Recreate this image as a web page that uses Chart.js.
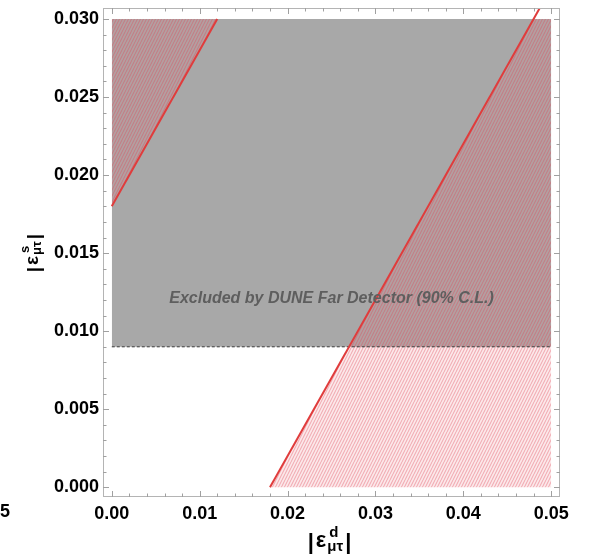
<!DOCTYPE html>
<html><head><meta charset="utf-8">
<script src="https://cdn.jsdelivr.net/npm/chart.js@4/dist/chart.umd.min.js"></script>
<style>html,body{margin:0;padding:0;background:#fff}#wrap{position:relative;width:598px;height:556px}</style>
</head><body><div id="wrap"><canvas id="c" width="598" height="556"></canvas></div>
<script>
// ---- data ----
const xTicks = [0, 0.01, 0.02, 0.03, 0.04, 0.05];
const xTickLabels = ['0.00', '0.01', '0.02', '0.03', '0.04', '0.05'];
const yTicks = [0, 0.005, 0.010, 0.015, 0.020, 0.025, 0.030];
const yTickLabels = ['0.000', '0.005', '0.010', '0.015', '0.020', '0.025', '0.030'];
const xMinorTicks = [0.002, 0.004, 0.006, 0.008, 0.012, 0.014, 0.016, 0.018, 0.022, 0.024, 0.026, 0.028, 0.032, 0.034, 0.036, 0.038, 0.042, 0.044, 0.046, 0.048];
const yMinorTicks = [0.001, 0.002, 0.003, 0.004, 0.006, 0.007, 0.008, 0.009, 0.011, 0.012, 0.013, 0.014, 0.016, 0.017, 0.018, 0.019, 0.021, 0.022, 0.023, 0.024, 0.026, 0.027, 0.028, 0.029];
// DUNE FD excluded band
const duneTop = [{x: 0, y: 0.030}, {x: 0.05, y: 0.030}];
const duneEdge = [{x: 0, y: 0.009}, {x: 0.05, y: 0.009}];
const duneLimit = 0.009;
// red boundary lines
const boundLeft = [{x: 0, y: 0.018}, {x: 0.012, y: 0.030}];
const boundRight = [{x: 0.018, y: 0}, {x: 0.049, y: 0.031}];
// hatched regions
const hatchUpper = [{x: 0, y: 0.018}, {x: 0.012, y: 0.030}];
const hatchUpperTo = 0.030;
const hatchLower = [{x: 0.018, y: 0}, {x: 0.048, y: 0.030}, {x: 0.05, y: 0.030}];
const hatchLowerTo = 0;
const bandLabel = 'Excluded by DUNE Far Detector (90% C.L.)';
const bandLabelPos = {x: 0.025, y: 0.0121};

// ---- hatch pattern ----
function makeHatch() {
  const c = document.createElement('canvas');
  c.width = 3; c.height = 6;
  const g = c.getContext('2d');
  g.fillStyle = 'rgba(235,120,130,0.16)';
  g.fillRect(0, 0, 3, 6);
  g.strokeStyle = 'rgba(225,70,85,0.36)';
  g.lineWidth = 1.1;
  g.beginPath();
  for (let k = -1; k <= 1; k++) { g.moveTo(k * 3, 6); g.lineTo(k * 3 + 3, 0); }
  g.stroke();
  return document.getElementById('c').getContext('2d').createPattern(c, 'repeat');
}
const hatch = makeHatch();

function drawTitle(ctx, cx, baseY, main, sup, sub, size) {
  const fMain = 'bold ' + size + 'px "Liberation Sans", Arial, sans-serif';
  const fSmall = 'bold ' + Math.round(size * 0.68) + 'px "Liberation Sans", Arial, sans-serif';
  ctx.font = fMain;
  const wBar = ctx.measureText('|').width;
  const wMain = ctx.measureText(main).width;
  ctx.font = fSmall;
  const wSup = ctx.measureText(sup).width;
  const wSub = ctx.measureText(sub).width;
  const wStack = Math.max(wSup + 2, wSub);
  const gap = 2;
  const total = wBar + gap + wMain + 1 + wStack + gap + wBar;
  let x = cx - total / 2;
  ctx.textAlign = 'left'; ctx.textBaseline = 'alphabetic'; ctx.fillStyle = '#000';
  ctx.font = fMain;
  ctx.fillText('|', x, baseY + size * 0.1); x += wBar + gap;
  ctx.fillText(main, x, baseY); x += wMain + 1;
  ctx.font = fSmall;
  ctx.fillText(sup, x + 2, baseY - size * 0.45);
  ctx.fillText(sub, x, baseY + size * 0.18);
  x += wStack + gap;
  ctx.font = fMain;
  ctx.fillText('|', x, baseY + size * 0.1);
}

const decor = {
  id: 'decor',
  afterDatasetsDraw(chart) {
    const {ctx, scales: {x, y}} = chart;
    ctx.save();
    ctx.font = 'italic bold 16px "Liberation Sans", Arial, sans-serif';
    ctx.fillStyle = '#5e5e5e';
    ctx.textAlign = 'center'; ctx.textBaseline = 'middle';
    ctx.fillText(bandLabel, x.getPixelForValue(bandLabelPos.x), y.getPixelForValue(bandLabelPos.y));
    ctx.restore();
  },
  afterDraw(chart) {
    const {ctx, chartArea: a, scales: {x, y}} = chart;
    ctx.save();
    ctx.strokeStyle = '#b4b4b4'; ctx.lineWidth = 1;
    ctx.strokeRect(a.left + 0.5, a.top + 0.5, a.right - a.left - 1, a.bottom - a.top - 1);
    ctx.strokeStyle = '#a0a0a0';
    ctx.beginPath();
    const tx = (v, len) => { const p = Math.round(x.getPixelForValue(v)) + 0.5;
      ctx.moveTo(p, a.bottom); ctx.lineTo(p, a.bottom - len);
      ctx.moveTo(p, a.top); ctx.lineTo(p, a.top + len); };
    const ty = (v, len) => { const p = Math.round(y.getPixelForValue(v)) + 0.5;
      ctx.moveTo(a.left, p); ctx.lineTo(a.left + len, p);
      ctx.moveTo(a.right, p); ctx.lineTo(a.right - len, p); };
    xTicks.forEach(v => tx(v, 6)); xMinorTicks.forEach(v => tx(v, 3.5));
    yTicks.forEach(v => ty(v, 6)); yMinorTicks.forEach(v => ty(v, 3.5));
    ctx.stroke();
    // axis titles
    drawTitle(ctx, (x.getPixelForValue(0) + x.getPixelForValue(0.05)) / 2 - 2, 547, '\u03B5', 'd', '\u03BC\u03C4', 22);
    ctx.translate(38, (y.getPixelForValue(0) + y.getPixelForValue(0.03)) / 2);
    ctx.rotate(-Math.PI / 2);
    drawTitle(ctx, 0, 0, '\u03B5', 's', '\u03BC\u03C4', 19);
    ctx.restore();
    // clipped tick label of neighbouring panel
    ctx.save();
    ctx.font = 'bold 18px "Liberation Sans", Arial, sans-serif';
    ctx.fillStyle = '#000'; ctx.textAlign = 'right'; ctx.textBaseline = 'middle';
    ctx.fillText('0.05', 10, 512);
    ctx.restore();
  }
};

const tickFont = {family: '"Liberation Sans", Arial, sans-serif', size: 18, weight: 'bold'};
const lineDs = (data, color, w, dash, order) => ({data, showLine: true, borderColor: color, borderWidth: w,
  borderDash: dash, pointRadius: 0, fill: false, order, clip: 0});

new Chart(document.getElementById('c'), {
  type: 'scatter',
  data: {datasets: [
    lineDs(boundLeft, '#e03c3c', 2, [], 0),
    lineDs(boundRight, '#e03c3c', 2, [], 0),
    lineDs(duneEdge, '#3a3a3a', 1, [3, 2], 1),
    {data: hatchUpper, showLine: true, borderWidth: 0, pointRadius: 0, fill: {value: hatchUpperTo}, backgroundColor: hatch, order: 2},
    {data: hatchLower, showLine: true, borderWidth: 0, pointRadius: 0, fill: {value: hatchLowerTo}, backgroundColor: hatch, order: 2},
    {data: duneTop, showLine: true, borderWidth: 0, pointRadius: 0, fill: {value: duneLimit}, backgroundColor: '#a8a8a8', order: 3}
  ]},
  options: {
    animation: false, responsive: false, devicePixelRatio: 1,
    layout: {padding: {top: 8, right: 38, left: 0, bottom: 0}},
    plugins: {legend: {display: false}, tooltip: {enabled: false}},
    scales: {
      x: {type: 'linear', min: -0.001, max: 0.051,
        grid: {display: false, drawTicks: false}, border: {display: false},
        afterBuildTicks: s => { s.ticks = xTicks.map(v => ({value: v})); },
        afterFit: s => { s.height = 59; s.paddingLeft = 0; s.paddingRight = 0; },
        ticks: {callback: (v, i) => xTickLabels[i], font: tickFont, color: '#000', padding: 6, maxRotation: 0, autoSkip: false}},
      y: {type: 'linear', min: -0.00062, max: 0.0307,
        grid: {display: false, drawTicks: false}, border: {display: false},
        afterBuildTicks: s => { s.ticks = yTicks.map(v => ({value: v})); },
        afterFit: s => { s.width = 103; s.paddingTop = 0; s.paddingBottom = 0; },
        ticks: {callback: (v, i) => yTickLabels[i], font: tickFont, color: '#000', padding: 4, autoSkip: false}}
    }
  },
  plugins: [decor]
});
</script></body></html>
